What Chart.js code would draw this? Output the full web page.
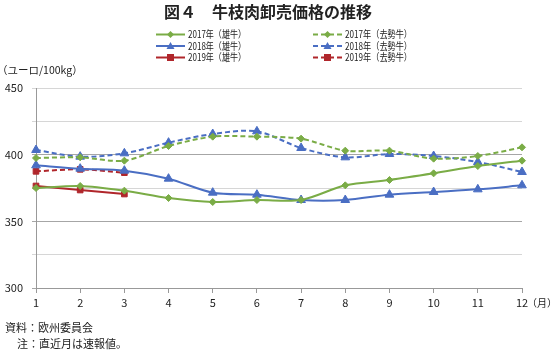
<!DOCTYPE html>
<html>
<head>
<meta charset="utf-8">
<title>牛枝肉卸売価格の推移</title>
<script src="https://cdn.jsdelivr.net/npm/chart.js"></script>
<style>
    html, body { margin: 0; padding: 0; background: #fff; }
    #wrap { width: 557px; height: 352px; position: relative; }
</style>
</head>
<body>
<div id="wrap"><canvas id="beefChart" width="557" height="352"></canvas></div>
<script>
const FONT = "'Noto Sans CJK JP', 'Noto Sans', sans-serif";

// months (x axis)
const months = ['1', '2', '3', '4', '5', '6', '7', '8', '9', '10', '11', '12'];

// ユーロ/100kg
const bull2017  = [375, 376.5, 373, 367.5, 364.5, 366, 366, 377, 381, 386, 391.5, 395.5];
const steer2017 = [397.5, 398, 395.5, 406.5, 413.5, 413.5, 412, 403, 403, 397, 399, 405.5];
const bull2018  = [392, 389.5, 388, 382, 371.5, 370, 366, 366, 370, 372, 374, 377];
const steer2018 = [403.5, 398.5, 401, 409, 415.5, 417.5, 405, 398, 400.5, 399, 394.5, 387];
const bull2019  = [376.5, 373.5, 370.5];
const steer2019 = [387.5, 389, 386.5];

const GREEN = '#7aac46';
const BLUE = '#4a6ec3';
const RED = '#b0262b';

function series(label, data, color, dashed, marker, radius) {
    return {
        label: label,
        data: data,
        borderColor: color,
        backgroundColor: color,
        borderWidth: 2,
        borderDash: dashed ? [5, 3] : [],
        pointStyle: marker,
        pointRadius: radius,
        pointBorderWidth: 1,
        pointBorderColor: color,
        tension: 0.3,
        fill: false
    };
}

const datasets = [
    series('2017年（雄牛）', bull2017, GREEN, false, 'rectRot', 3.5),
    series('2017年（去勢牛）', steer2017, GREEN, true, 'rectRot', 3.5),
    series('2018年（雄牛）', bull2018, BLUE, false, 'triangle', 5),
    series('2018年（去勢牛）', steer2018, BLUE, true, 'triangle', 5),
    series('2019年（雄牛）', bull2019, RED, false, 'rect', 4),
    series('2019年（去勢牛）', steer2019, RED, true, 'rect', 4)
];

// title, custom two-column legend, unit labels and notes
const textPlugin = {
    id: 'textPlugin',
    afterDraw(chart) {
        const ctx = chart.ctx;
        ctx.save();
        ctx.fillStyle = '#222';
        ctx.font = 'bold 16px ' + FONT;
        ctx.textAlign = 'center';
        ctx.textBaseline = 'middle';
        ctx.fillText('図４　牛枝肉卸売価格の推移', 268, 12);

        const rows = [34.5, 46, 57.5];
        const cols = [156, 313];
        chart.data.datasets.forEach((ds, i) => {
            const x = cols[i % 2];
            const y = rows[Math.floor(i / 2)];
            ctx.strokeStyle = ds.borderColor;
            ctx.lineWidth = 2;
            ctx.setLineDash(ds.borderDash);
            ctx.beginPath();
            ctx.moveTo(x, y);
            ctx.lineTo(x + 29, y);
            ctx.stroke();
            ctx.setLineDash([]);
            ctx.fillStyle = ds.borderColor;
            const cx = x + 14.5;
            ctx.beginPath();
            if (ds.pointStyle === 'rectRot') {
                ctx.moveTo(cx, y - 3.5); ctx.lineTo(cx + 3.5, y); ctx.lineTo(cx, y + 3.5); ctx.lineTo(cx - 3.5, y);
            } else if (ds.pointStyle === 'triangle') {
                ctx.moveTo(cx, y - 4); ctx.lineTo(cx + 4, y + 3); ctx.lineTo(cx - 4, y + 3);
            } else {
                ctx.rect(cx - 3.5, y - 3.5, 7, 7);
            }
            ctx.closePath();
            ctx.fill();
            ctx.fillStyle = '#222';
            ctx.font = '10px ' + FONT;
            ctx.textAlign = 'left';
            ctx.fillText(ds.label, x + 32, y, i % 2 ? 67 : 58);
        });

        ctx.font = '10.5px ' + FONT;
        ctx.textAlign = 'left';
        ctx.fillText('（ユーロ/100kg）', -3, 70);
        ctx.font = '10px ' + FONT;
        ctx.fillText('（月）', 527, 303);
        ctx.font = '11px ' + FONT;
        ctx.fillText('資料：欧州委員会', 5, 328);
        ctx.fillText('注：直近月は速報値。', 17, 344);
        ctx.restore();
    }
};

new Chart(document.getElementById('beefChart').getContext('2d'), {
    type: 'line',
    data: { labels: months, datasets: datasets },
    plugins: [textPlugin],
    options: {
        responsive: false,
        animation: false,
        layout: { padding: { top: 88, right: 35, left: 0, bottom: 0 } },
        plugins: {
            legend: { display: false },
            title: { display: false },
            tooltip: { enabled: false }
        },
        scales: {
            x: {
                offset: false,
                afterFit(scale) { scale.height = 64; },
                grid: { drawOnChartArea: false, drawTicks: true, tickLength: 5, color: '#999' },
                border: { display: true, color: '#999' },
                ticks: {
                    padding: 3,
                    maxRotation: 0,
                    autoSkip: false,
                    color: '#222',
                    font: { size: 11, family: FONT }
                }
            },
            y: {
                min: 300,
                max: 450,
                afterFit(scale) { scale.width = 36; },
                grid: {
                    tickLength: 4,
                    color(c) { return c.tick && c.tick.value % 50 === 0 && c.tick.value < 450 ? '#a6a6a6' : '#d6d6d6'; }
                },
                border: { display: true, color: '#999' },
                ticks: {
                    stepSize: 25,
                    padding: 9,
                    color: '#222',
                    font: { size: 11, family: FONT },
                    callback(v) { return v % 50 === 0 ? v : ''; }
                }
            }
        }
    }
});
</script>
</body>
</html>
